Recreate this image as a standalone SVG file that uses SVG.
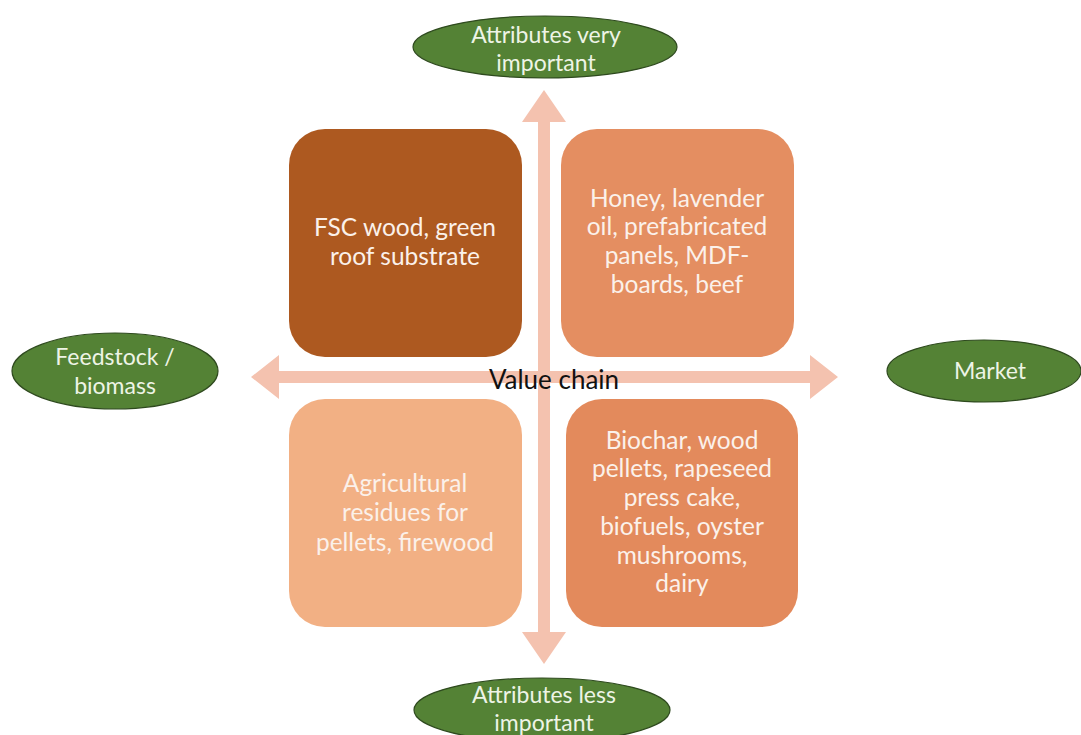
<svg xmlns="http://www.w3.org/2000/svg" width="1081" height="735" viewBox="0 0 1081 735">
<style>
.arrow{fill:#F4C2AF;stroke:none}
.box{stroke:none}
.btxt{font-family:Lato,"Open Sans",sans-serif;font-size:24.5px;fill:#FBF1EA;text-anchor:middle}
.ell{fill:#548235;stroke:#2E4A1E;stroke-width:1.2}
.etxt{font-family:Lato,"Open Sans",sans-serif;font-size:23px;fill:#EEF4E6;text-anchor:middle}
.lbl{font-family:Lato,"Open Sans",sans-serif;font-size:26px;fill:#111;text-anchor:middle}
</style>
<rect width="1081" height="735" fill="#fff"/>
<g id="connectors">
<polygon class="arrow" points="544,90 566,122 550,122 550,632 566,632 544,664 522,632 538,632 538,122 522,122"/>
<polygon class="arrow" points="251,377 279,355 279,371 810,371 810,355 838,377 810,399 810,383 279,383 279,399"/>
</g>
<g id="box-tl"><rect class="box" x="289" y="129" width="233" height="228" rx="36" fill="#AD5920"/>
<text class="btxt" x="405" y="236">FSC wood, green</text><text class="btxt" x="405" y="265">roof substrate</text></g>
<g id="box-tr"><rect class="box" x="561" y="129" width="233" height="228" rx="36" fill="#E48E61"/>
<text class="btxt" x="677" y="207">Honey, lavender</text><text class="btxt" x="677" y="235">oil, prefabricated</text><text class="btxt" x="677" y="264">panels, MDF-</text><text class="btxt" x="677" y="293">boards, beef</text></g>
<g id="box-bl"><rect class="box" x="289" y="399" width="233" height="228" rx="36" fill="#F2B084"/>
<text class="btxt" x="405" y="492">Agricultural</text><text class="btxt" x="405" y="521">residues for</text><text class="btxt" x="405" y="551">pellets, firewood</text></g>
<g id="box-br"><rect class="box" x="566" y="399" width="232" height="228" rx="36" fill="#E38A5C"/>
<text class="btxt" x="682" y="449">Biochar, wood</text><text class="btxt" x="682" y="477">pellets, rapeseed</text><text class="btxt" x="682" y="506">press cake,</text><text class="btxt" x="682" y="535">biofuels, oyster</text><text class="btxt" x="682" y="564">mushrooms,</text><text class="btxt" x="682" y="592">dairy</text></g>
<g id="label-value-chain"><text class="lbl" x="554" y="389">Value chain</text></g>
<g id="ell-top"><ellipse class="ell" cx="545" cy="47" rx="132" ry="31"/>
<text class="etxt" x="546" y="43">Attributes very</text><text class="etxt" x="546" y="71">important</text></g>
<g id="ell-left"><ellipse class="ell" cx="115" cy="371" rx="103" ry="38"/>
<text class="etxt" x="115" y="365">Feedstock /</text><text class="etxt" x="115" y="394">biomass</text></g>
<g id="ell-right"><ellipse class="ell" cx="984" cy="371" rx="97" ry="31"/>
<text class="etxt" x="990" y="379">Market</text></g>
<g id="ell-bottom"><ellipse class="ell" cx="542" cy="710" rx="128" ry="32"/>
<text class="etxt" x="544" y="703">Attributes less</text><text class="etxt" x="544" y="731">important</text></g>
</svg>
